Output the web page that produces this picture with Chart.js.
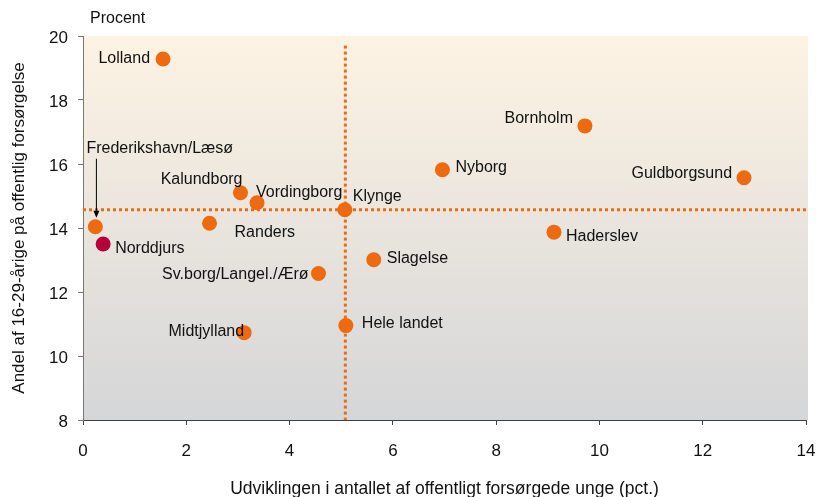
<!DOCTYPE html>
<html>
<head>
<meta charset="utf-8">
<script src="https://cdn.jsdelivr.net/npm/chart.js@4"></script>
<style>
  html, body { margin: 0; padding: 0; background: #ffffff; }
  #wrap { width: 816px; height: 497px; position: relative; }
</style>
</head>
<body>
<div id="wrap"><canvas id="c" width="816" height="497"></canvas></div>
<script>
// ---- data ----
const names = ["Lolland", "Frederikshavn/Læsø", "Norddjurs", "Kalundborg", "Vordingborg", "Klynge",
  "Randers", "Bornholm", "Nyborg", "Guldborgsund", "Haderslev", "Slagelse",
  "Sv.borg/Langel./Ærø", "Midtjylland", "Hele landet"];
const xValues = [1.55, 0.24, 0.39, 3.05, 3.37, 5.07, 2.45, 9.72, 6.96, 12.80, 9.12, 5.63, 4.56, 3.12, 5.09];
const yValues = [19.28, 14.04, 13.50, 15.10, 14.79, 14.57, 14.15, 17.19, 15.82, 15.57, 13.87, 13.01, 12.58, 10.73, 10.95];
const highlight = ["Norddjurs"];
const xTicks = [0, 2, 4, 6, 8, 10, 12, 14];
const yTicks = [8, 10, 12, 14, 16, 18, 20];
const avgX = 5.08;   // vertical reference line (Hele landet)
const avgY = 14.57;  // horizontal reference line (Klynge)
const xTitle = "Udviklingen i antallet af offentligt forsørgede unge (pct.)";
const yTitle = "Andel af 16-29-årige på offentlig forsørgelse";
const unitLabel = "Procent";

// ---- label placement (style, kept separate from data) ----
const labelAlign = ["right","left","left","right","left","left","left","right","left","right","left","left","right","right","left"];
const labelDx    = [-13, -9, 12, 2, -1, 8, 25, -12, 13, -12, 12, 13, -10, 0, 16];
const labelDy    = [0, -78, 5, -13, -10, -13, 9, -7, -2, -4, 4, -1, 1, -1, -2];

const ORANGE = "#EE6A10";
const RED = "#B5003C";
const FONT = "'Liberation Sans', Arial, sans-serif";

const points = names.map((n, i) => ({ x: xValues[i], y: yValues[i] }));
const colors = names.map(n => highlight.includes(n) ? RED : ORANGE);

const bgPlugin = {
  id: 'bg',
  beforeDraw(chart) {
    const { ctx, chartArea: a } = chart;
    const g = ctx.createLinearGradient(0, a.top, 0, a.bottom);
    g.addColorStop(0, "#FDF3E3");
    g.addColorStop(1, "#D5D6D8");
    ctx.save();
    ctx.fillStyle = g;
    ctx.fillRect(a.left, a.top, a.right - a.left + 2, a.bottom - a.top);
    ctx.restore();
  }
};

const labelPlugin = {
  id: 'labels',
  afterDatasetsDraw(chart) {
    const { ctx, chartArea: a } = chart;
    const meta = chart.getDatasetMeta(2);
    ctx.save();
    ctx.font = "16px " + FONT;
    ctx.fillStyle = "#111111";
    ctx.textBaseline = "middle";
    meta.data.forEach((el, i) => {
      ctx.textAlign = labelAlign[i];
      ctx.fillText(names[i], el.x + labelDx[i], el.y + labelDy[i]);
    });
    // arrow for Frederikshavn/Læsø
    const fi = names.indexOf("Frederikshavn/Læsø");
    const fe = meta.data[fi];
    const ax = fe.x + 1;
    const y0 = fe.y - 68, y1 = fe.y - 9;
    ctx.strokeStyle = "#000000";
    ctx.lineWidth = 1;
    ctx.beginPath();
    ctx.moveTo(ax, y0);
    ctx.lineTo(ax, y1 - 4);
    ctx.stroke();
    ctx.fillStyle = "#000000";
    ctx.beginPath();
    ctx.moveTo(ax, y1);
    ctx.lineTo(ax - 3, y1 - 7);
    ctx.lineTo(ax + 3, y1 - 7);
    ctx.closePath();
    ctx.fill();
    // unit label
    ctx.textAlign = "left";
    ctx.fillStyle = "#111111";
    ctx.fillText(unitLabel, a.left + 7, a.top - 17);
    ctx.restore();
  }
};

new Chart(document.getElementById('c'), {
  type: 'scatter',
  data: {
    datasets: [
      {
        type: 'line',
        data: [{ x: avgX, y: 19.7 }, { x: avgX, y: 8 }],
        borderColor: ORANGE, borderWidth: 3, borderDash: [3, 3],
        pointRadius: 0, fill: false, order: 3
      },
      {
        type: 'line',
        data: [{ x: 0, y: avgY }, { x: 14, y: avgY }],
        borderColor: ORANGE, borderWidth: 3, borderDash: [3, 3],
        pointRadius: 0, fill: false, order: 2
      },
      {
        data: points,
        backgroundColor: colors,
        borderColor: colors,
        borderWidth: 0,
        pointRadius: 7.5,
        pointHoverRadius: 7.5,
        order: 1
      }
    ]
  },
  options: {
    responsive: false,
    animation: false,
    events: [],
    layout: { padding: { top: 36, right: 10, left: 0, bottom: 0 } },
    plugins: { legend: { display: false }, tooltip: { enabled: false } },
    scales: {
      x: {
        type: 'linear', min: 0, max: 14,
        afterBuildTicks(s) { s.ticks = xTicks.map(v => ({ value: v })); },
        afterFit(s) { s.height = 77; s.paddingRight = 0; s.paddingLeft = 0; },
        grid: { display: true, drawOnChartArea: false, drawTicks: true, tickLength: 5, tickColor: '#404040', tickWidth: 1 },
        border: { display: true, color: '#404040', width: 1 },
        ticks: { color: '#111111', font: { family: FONT, size: 17 }, padding: 16 },
        title: { display: true, text: xTitle, color: '#111111', font: { family: FONT, size: 17.5 }, padding: { top: 0, bottom: -3 } }
      },
      y: {
        type: 'linear', min: 8, max: 20,
        afterBuildTicks(s) { s.ticks = yTicks.map(v => ({ value: v })); },
        afterFit(s) { s.width = 83; s.paddingTop = 0; s.paddingBottom = 0; },
        grid: { display: true, drawOnChartArea: false, drawTicks: true, tickLength: 5, tickColor: '#777777', tickWidth: 1 },
        border: { display: true, color: '#777777', width: 1 },
        ticks: { color: '#111111', font: { family: FONT, size: 17 }, padding: 10, labelOffset: 2 },
        title: { display: true, text: yTitle, color: '#111111', font: { family: FONT, size: 17 }, padding: { top: 9, bottom: 9 } }
      }
    }
  },
  plugins: [bgPlugin, labelPlugin]
});
</script>
</body>
</html>
